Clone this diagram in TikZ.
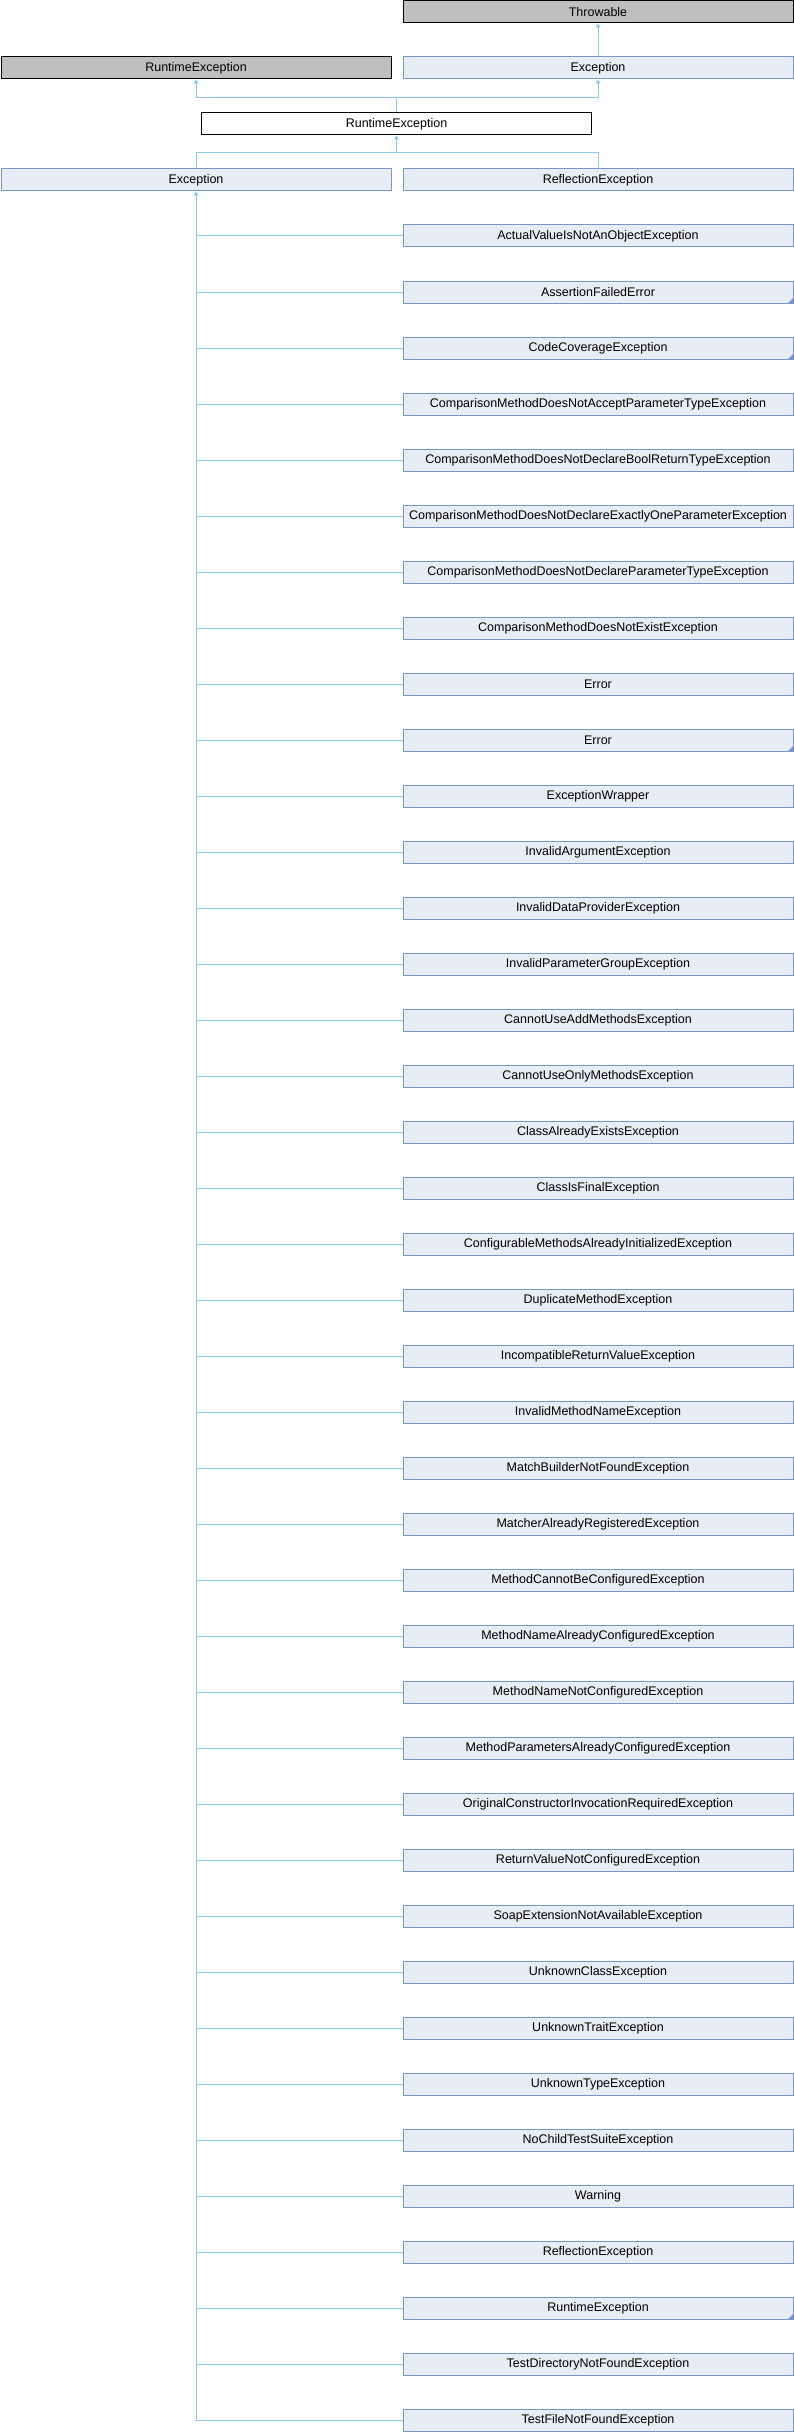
\documentclass[tikz,border=0pt]{standalone}
\usepackage{fontspec}
\setmainfont{Liberation Sans}
\usetikzlibrary{arrows.meta}
\definecolor{boxfill}{HTML}{E8ECF5}
\definecolor{boxdraw}{HTML}{7A94CC}
\definecolor{edgecol}{HTML}{8CC8EC}
\definecolor{grayfill}{HTML}{BFBFBF}
\begin{document}
\begin{tikzpicture}[x=1pt,y=-1pt,
 cls/.style={draw=boxdraw,fill=boxfill,line width=1pt,minimum width=390pt,minimum height=22pt,inner sep=0pt,anchor=north west,font=\fontsize{12.5}{14}\selectfont},
 ext/.style={cls,draw=black,fill=grayfill},
 cur/.style={cls,draw=black,fill=white},
 edge/.style={draw=edgecol,line width=1pt},
 inh/.style={edge,-{Triangle[width=5pt,length=4pt]}}]
\useasboundingbox (0,0) rectangle (794,2432);
\node[ext] (thr) at (402.5,0.5) {Throwable};
\node[ext] (rte) at (0.5,56.5) {RuntimeException};
\node[cls] (exc) at (402.5,56.5) {Exception};
\node[cur] (rt) at (201,112.5) {RuntimeException};
\node[cls] (exl) at (0.5,168.5) {Exception};
\node[cls] (refl) at (402.5,168.5) {ReflectionException};
\draw[inh] (exc.north) -- (thr.south);
\coordinate (j1) at (396.5,97.5);
\coordinate (j2) at (396.5,152.5);
\draw[edge] (rt.north) -- (j1);
\draw[inh] (j1) -| (rte.south);
\draw[inh] (j1) -| (exc.south);
\draw[inh] (j2) -- (rt.south);
\draw[edge] (exl.north) |- (j2);
\draw[edge] (refl.north) |- (j2);
\foreach \t [count=\i] in {ActualValueIsNotAnObjectException,AssertionFailedError,CodeCoverageException,ComparisonMethodDoesNotAcceptParameterTypeException,ComparisonMethodDoesNotDeclareBoolReturnTypeException,ComparisonMethodDoesNotDeclareExactlyOneParameterException,ComparisonMethodDoesNotDeclareParameterTypeException,ComparisonMethodDoesNotExistException,Error,Error,ExceptionWrapper,InvalidArgumentException,InvalidDataProviderException,InvalidParameterGroupException,CannotUseAddMethodsException,CannotUseOnlyMethodsException,ClassAlreadyExistsException,ClassIsFinalException,ConfigurableMethodsAlreadyInitializedException,DuplicateMethodException,IncompatibleReturnValueException,InvalidMethodNameException,MatchBuilderNotFoundException,MatcherAlreadyRegisteredException,MethodCannotBeConfiguredException,MethodNameAlreadyConfiguredException,MethodNameNotConfiguredException,MethodParametersAlreadyConfiguredException,OriginalConstructorInvocationRequiredException,ReturnValueNotConfiguredException,SoapExtensionNotAvailableException,UnknownClassException,UnknownTraitException,UnknownTypeException,NoChildTestSuiteException,Warning,ReflectionException,RuntimeException,TestDirectoryNotFoundException,TestFileNotFoundException}{
  \node[cls] (c\i) at (402.5,{224.5+56*(\i-1)}) {\t};
  \draw[edge] (exl.south |- c\i.west) -- (c\i.west);
}
\draw[inh] (exl.south |- c40.west) -- (exl.south);
\foreach \i in {2,3,10,38}{
  \fill[boxdraw] (c\i.south east) -- ++(-6pt,0pt) -- ++(6pt,6pt) -- cycle;
}
\end{tikzpicture}
\end{document}
